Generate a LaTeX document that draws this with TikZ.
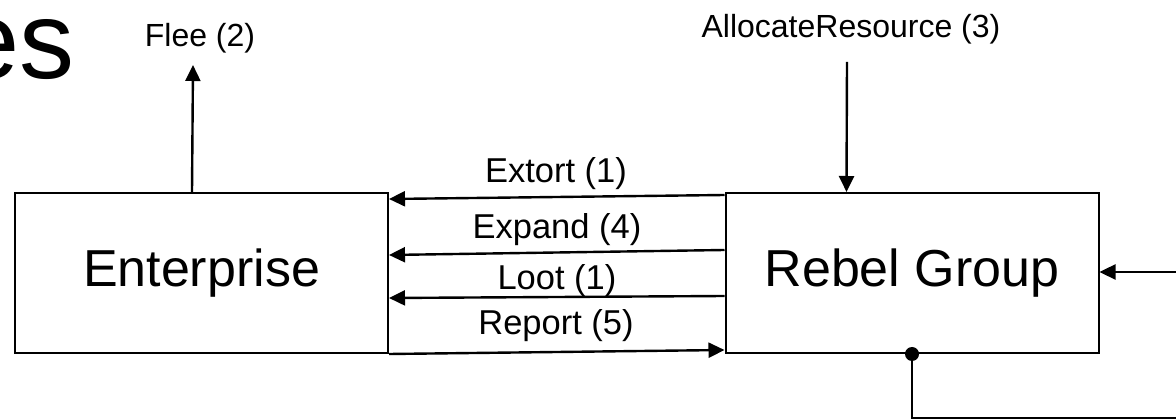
\documentclass[tikz,border=0pt]{standalone}
\usepackage{fontspec}
\setmainfont{Liberation Sans}
\usetikzlibrary{arrows.meta,calc}

\tikzset{
  entity/.style={draw, line width=2pt, minimum width=373pt, minimum height=160pt,
                 inner sep=0pt, font=\fontsize{52}{60}\selectfont},
  flow/.style={line width=2.4pt, -{Triangle[length=16pt,width=15pt]}},
  wire/.style={line width=2.4pt},
  lbl/.style={anchor=base, inner sep=0pt, font=\fontsize{34.5}{40}\selectfont},
  toplbl/.style={anchor=base, inner sep=0pt, font=\fontsize{32}{38}\selectfont},
}

\begin{document}
\begin{tikzpicture}[x=1pt, y=-1pt]
  \useasboundingbox (0,0) rectangle (1176,419);

  % title fragment
  \node[anchor=base west, inner sep=0pt, font=\fontsize{110}{120}\selectfont] (title) at (-42,79) {es};

  % the two actors
  \node[entity] (ent) at (201.5,273) {Enterprise};
  \node[entity] (reb) at (912,273) {Rebel Group};

  % messages between them
  \draw[flow] ($(reb.north west)+(0,3)$)   -- ($(ent.north east)+(0,7)$);
  \draw[flow] ($(reb.north west)+(0,58)$)  -- ($(ent.north east)+(0,63)$);
  \draw[flow] ($(reb.north west)+(0,104)$) -- ($(ent.north east)+(0,106)$);
  \draw[flow] (ent.south east) -- ($(reb.south west)+(0,-4)$);

  \node[lbl] (lext) at (556,183) {Extort (1)};
  \node[lbl] (lexp) at (557,239) {Expand (4)};
  \node[lbl] (lloo) at (557,290) {Loot (1)};
  \node[lbl] (lrep) at (556,335) {Report (5)};

  % flee upward
  \coordinate (fleeend) at (193,65);
  \draw[flow] ($(ent.north west)+(178,0)$) -- (fleeend);
  \node[toplbl] (lflee) at (200,47) {Flee (2)};

  % resource allocation downward
  \coordinate (allocstart) at (847,62);
  \draw[flow] (allocstart) -- ($(reb.north west)+(122,0)$);
  \node[toplbl] (lalloc) at (851,38) {AllocateResource (3)};

  % feedback loop on the right
  \coordinate (inright) at (1185,272);
  \draw[flow] (inright) -- (reb.east |- inright);
  \coordinate (loopdown) at (912,418);
  \coordinate (loopright) at (1185,418);
  \draw[wire] (reb.south) -- (loopdown) -- (loopright);
  \fill (reb.south) circle (7pt);
\end{tikzpicture}
\end{document}
